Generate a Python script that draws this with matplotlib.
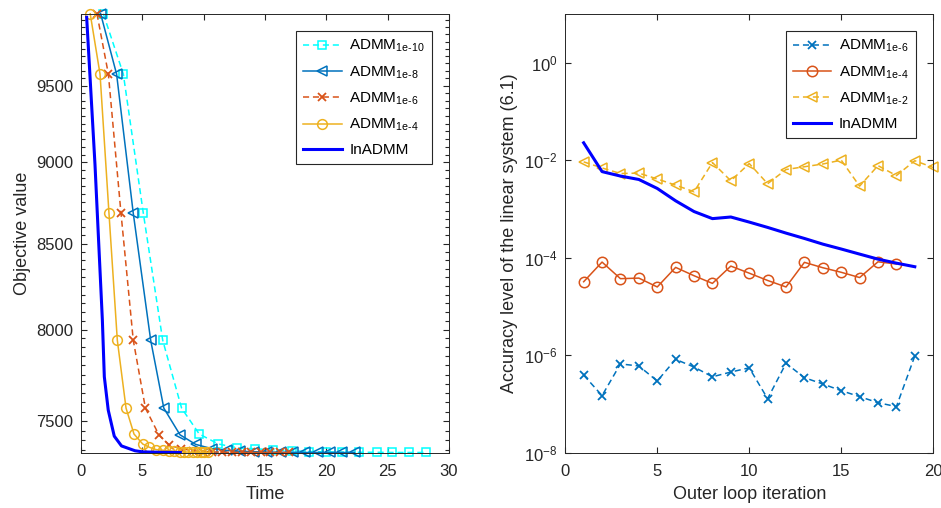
import matplotlib
matplotlib.use('Agg')
import matplotlib.pyplot as plt
import numpy as np
from matplotlib.ticker import FixedLocator, FixedFormatter, NullFormatter, NullLocator

plt.rcParams['font.family'] = ['Liberation Sans', 'DejaVu Sans']
plt.rcParams['mathtext.fontset'] = 'custom'
plt.rcParams['mathtext.rm'] = 'Liberation Sans'
plt.rcParams['mathtext.it'] = 'Liberation Sans'
plt.rcParams['mathtext.bf'] = 'Liberation Sans:bold'

# ---------------- Left panel data (objective value vs time) ----------------
t_1e10 = [1.82, 3.45, 5.08, 6.66, 8.2, 9.64, 11.2, 12.75, 14.2, 15.67, 17.17, 18.6, 20.0, 21.3,
          22.66, 24.1, 25.37, 26.76, 28.12]
obj_1e10 = [9994, 9578, 8683, 7940, 7569, 7432, 7380, 7360, 7355, 7350, 7345, 7341, 7339, 7338,
            7337, 7337, 7336, 7336, 7336]

t_1e8 = [1.6, 2.9, 4.26, 5.68, 6.75, 8.07, 9.35, 10.65, 11.87, 13.0, 14.1, 15.2, 16.3, 17.3,
         18.3, 19.3, 20.3, 21.3, 22.3]
obj_1e8 = [9994, 9578, 8683, 7940, 7569, 7428, 7378, 7356, 7347, 7342, 7340, 7338, 7337, 7337,
           7336, 7336, 7336, 7336, 7336]

t_1e6 = [1.3, 2.23, 3.26, 4.26, 5.25, 6.35, 7.2, 8.12, 9.15, 9.95, 10.7, 11.47, 12.28, 13.15,
         13.9, 14.67, 15.4, 16.2, 16.95]
obj_1e6 = [9994, 9578, 8683, 7940, 7569, 7428, 7374, 7356, 7345, 7341, 7339, 7338, 7337, 7337,
           7336, 7336, 7336, 7336, 7336]

t_1e4 = [0.75, 1.55, 2.28, 2.96, 3.67, 4.32, 5.03, 5.57, 6.11, 6.66, 7.15, 7.6, 8.05, 8.4,
         8.75, 9.1, 9.45, 9.75, 10.05, 10.35]
obj_1e4 = [9994, 9578, 8683, 7940, 7569, 7432, 7380, 7363, 7351, 7348, 7345, 7342, 7340, 7339,
           7338, 7337, 7337, 7336, 7336, 7336]

t_in = [0.46, 1.14, 1.74, 1.9, 2.22, 2.71, 3.3, 4.4, 5.05, 6.5, 8.1]
obj_in = [9969, 8985, 8054, 7738, 7558, 7421, 7370, 7345, 7339, 7337, 7336]

left_yticks = [7500, 8000, 8500, 9000, 9500]
left_yticklabels = ['7500', '8000', '8500', '9000', '9500']
left_xticks = [0, 5, 10, 15, 20, 25, 30]

# ---------------- Right panel data (accuracy vs outer iteration) ----------------
it_a6 = list(range(1, 20))
acc_a6 = [3.9e-7, 1.48e-7, 6.6e-7, 6.0e-7, 2.95e-7, 8.2e-7, 5.7e-7, 3.6e-7, 4.5e-7, 5.5e-7,
          1.28e-7, 6.8e-7, 3.45e-7, 2.56e-7, 1.87e-7, 1.41e-7, 1.06e-7, 8.8e-8, 9.6e-7]

it_a4 = list(range(1, 19))
acc_a4 = [3.2e-5, 8.1e-5, 3.7e-5, 3.8e-5, 2.5e-5, 6.3e-5, 4.25e-5, 2.96e-5, 6.7e-5, 4.8e-5,
          3.4e-5, 2.5e-5, 8.0e-5, 6.2e-5, 5.0e-5, 3.9e-5, 8.2e-5, 7.4e-5]

it_a2 = list(range(1, 21))
acc_a2 = [9.2e-3, 6.9e-3, 5.3e-3, 5.4e-3, 4.1e-3, 3.06e-3, 2.24e-3, 8.9e-3, 3.76e-3, 8.5e-3,
          3.27e-3, 6.4e-3, 7.3e-3, 8.3e-3, 9.97e-3, 2.92e-3, 7.7e-3, 4.8e-3, 9.7e-3, 7.05e-3]

it_in = list(range(1, 20))
acc_in = [2.26e-2, 5.8e-3, 4.7e-3, 4.0e-3, 2.62e-3, 1.46e-3, 8.8e-4, 6.3e-4, 6.8e-4, 5.35e-4,
          4.16e-4, 3.18e-4, 2.47e-4, 1.89e-4, 1.50e-4, 1.18e-4, 9.3e-5, 7.7e-5, 6.5e-5]

right_yticks = [1e-8, 1e-6, 1e-4, 1e-2, 1e0]
right_xticks = [0, 5, 10, 15, 20]

BLUE = '#0072BD'
ORANGE = '#D95319'
YELLOW = '#EDB120'
CYAN = '#00FFFF'
INBLUE = '#0000FF'
AXC = '#262626'

fig = plt.figure(figsize=(9.41, 5.08), dpi=100)
ax1 = fig.add_axes([0.0861, 0.1089, 0.391, 0.864])
ax2 = fig.add_axes([0.6007, 0.1089, 0.391, 0.864])

dash = (4, 2.5)
lw = 1.1
ax1.plot(t_1e10, obj_1e10, ls='--', dashes=dash, color=CYAN, marker='s', mfc='none', ms=5.5,
         mew=1.1, lw=lw, clip_on=False, label=r'ADMM$_{1e\text{-}10}$')
ax1.plot(t_1e8, obj_1e8, ls='-', color=BLUE, marker='<', mfc='none', ms=7, mew=1.1, lw=lw,
         clip_on=False, label=r'ADMM$_{1e\text{-}8}$')
ax1.plot(t_1e6, obj_1e6, ls='--', dashes=dash, color=ORANGE, marker='x', ms=6, mew=1.3, lw=lw,
         clip_on=False, label=r'ADMM$_{1e\text{-}6}$')
ax1.plot(t_1e4, obj_1e4, ls='-', color=YELLOW, marker='o', mfc='none', ms=7, mew=1.1, lw=lw,
         clip_on=False, label=r'ADMM$_{1e\text{-}4}$')
ax1.plot(t_in, obj_in, ls='-', color=INBLUE, lw=2.2, clip_on=False, label='InADMM')

ax1.set_yscale('log')
ax1.set_ylim(7335, 9994)
ax1.set_xlim(0, 30)
ax1.yaxis.set_major_locator(FixedLocator(left_yticks))
ax1.yaxis.set_major_formatter(FixedFormatter(left_yticklabels))
ax1.yaxis.set_minor_locator(FixedLocator(np.arange(7350, 10000, 50)))
ax1.yaxis.set_minor_formatter(NullFormatter())
ax1.set_xticks(left_xticks)
ax1.set_xlabel('Time', fontsize=13, color=AXC, labelpad=5)
ax1.set_ylabel('Objective value', fontsize=13, color=AXC, labelpad=4)

ax2.plot(it_a6, acc_a6, ls='--', dashes=dash, color=BLUE, marker='x', ms=6, mew=1.3, lw=lw,
         clip_on=False, label=r'ADMM$_{1e\text{-}6}$')
ax2.plot(it_a4, acc_a4, ls='-', color=ORANGE, marker='o', mfc='none', ms=7.5, mew=1.1, lw=lw,
         clip_on=False, label=r'ADMM$_{1e\text{-}4}$')
ax2.plot(it_a2, acc_a2, ls='--', dashes=dash, color=YELLOW, marker='<', mfc='none', ms=7.5, mew=1.1,
         lw=lw, clip_on=False, label=r'ADMM$_{1e\text{-}2}$')
ax2.plot(it_in, acc_in, ls='-', color=INBLUE, lw=2.2, clip_on=False, label='InADMM')
ax2.set_yscale('log')
ax2.set_ylim(1e-8, 1e1)
ax2.set_xlim(0, 20)
ax2.yaxis.set_major_locator(FixedLocator(right_yticks))
ax2.yaxis.set_minor_locator(NullLocator())
ax2.set_xticks(right_xticks)
ax2.set_xlabel('Outer loop iteration', fontsize=13, color=AXC, labelpad=5)
ax2.set_ylabel('Accuracy level of the linear system (6.1)', fontsize=13, color=AXC, labelpad=4)

for ax in (ax1, ax2):
    for s in ax.spines.values():
        s.set_color(AXC)
        s.set_linewidth(0.7)
    ax.tick_params(which='both', direction='in', top=True, right=True, colors=AXC,
                   labelsize=12, width=0.8)
    ax.tick_params(which='major', length=4.5)
    ax.tick_params(which='minor', length=2.8)
    ax.tick_params(axis='x', which='both', pad=8)
    ax.tick_params(axis='y', which='both', pad=5.5)

leg1 = ax1.legend(loc='upper right', bbox_to_anchor=(0.953, 0.9606), borderaxespad=0,
                  fancybox=False, edgecolor=AXC, framealpha=1, fontsize=11,
                  handlelength=2.5, handletextpad=0.5, labelspacing=0.65, borderpad=0.45)
leg1.get_frame().set_linewidth(0.8)
leg2 = ax2.legend(loc='upper right', bbox_to_anchor=(0.952, 0.9606), borderaxespad=0,
                  fancybox=False, edgecolor=AXC, framealpha=1, fontsize=11,
                  handlelength=2.5, handletextpad=0.5, labelspacing=0.65, borderpad=0.45)
leg2.get_frame().set_linewidth(0.8)

fig.savefig('out.png', dpi=100)
